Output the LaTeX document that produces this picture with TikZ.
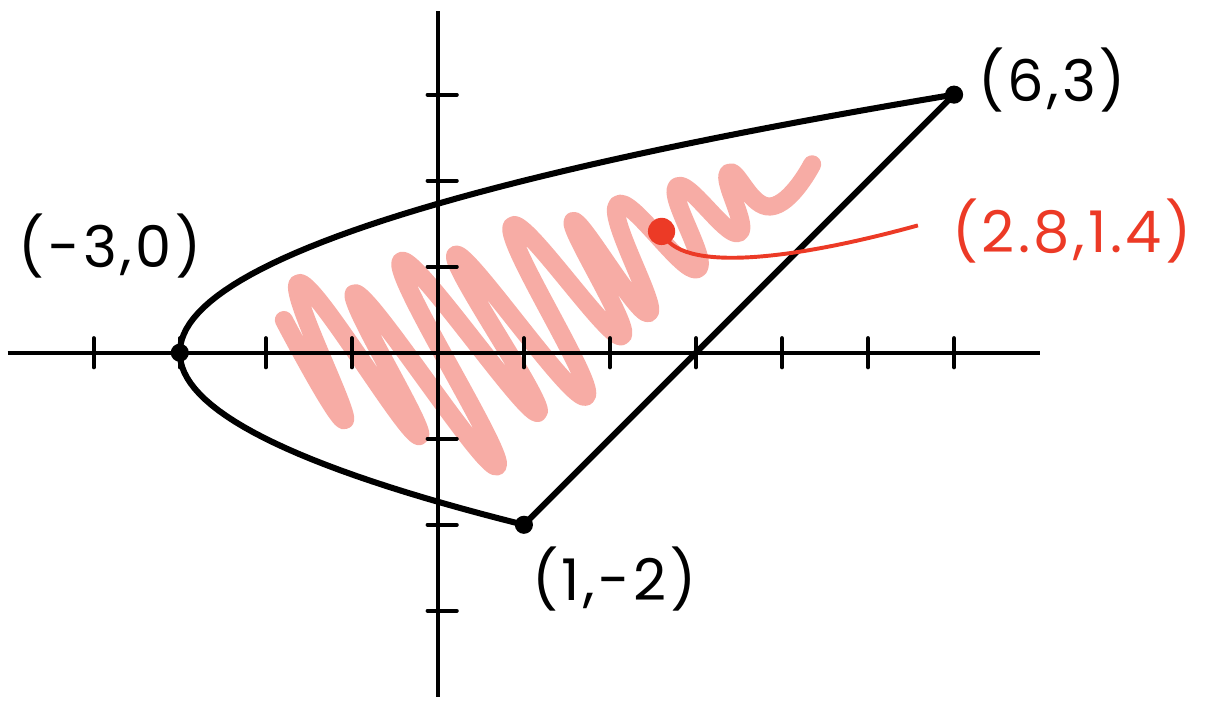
\documentclass[tikz,border=0pt]{standalone}
\usepackage{fontspec}
\setmainfont{Poppins}
\definecolor{scribblepink}{RGB}{247,172,165}
\definecolor{pointred}{RGB}{236,58,38}

\begin{document}
\begin{tikzpicture}[
        axisline/.style={line width=1.3pt},
        boundary/.style={line width=2pt},
        tickmark/.style={line width=1.3pt, line cap=round},
        vertex/.style={circle, fill=black, inner sep=0pt, minimum size=6pt},
        coordlabel/.style={font=\fontsize{19}{23}\selectfont\addfontfeature{LetterSpace=6}},
        scribble/.style={line width=6pt, scribblepink, line cap=round, line join=round},
        redpoint/.style={circle, fill=pointred, inner sep=0pt, minimum size=9pt},
        connector/.style={line width=1.3pt, pointred}
    ]
        \useasboundingbox (-5.09,-4.06) rectangle (9.01,4.10);

        % Shading of the region
        \draw[scribble] plot[smooth, tension=0.9] coordinates {
            (-1.79,0.38) (-1.08,-0.78) (-1.60,0.81) (-0.22,-0.97) (-0.95,0.69)
            (0.69,-1.32) (-0.43,1.06) (1.16,-0.70) (0.21,1.14) (1.72,-0.51)
            (0.86,1.47) (2.13,0.19) (1.57,1.53) (2.45,0.46) (2.09,1.72)
            (3.01,0.97) (2.78,1.93) (3.49,1.39) (3.38,2.09) (3.87,1.70) (4.35,2.19)};

        % Axes
        \draw[axisline] (-5,0) -- (7,0);
        \draw[axisline] (0,-4) -- (0,3.97);
        \foreach \x in {-4,-3,-2,-1,1,2,3,4,5,6}
            \draw[tickmark] (\x,-0.17) -- (\x,0.17);
        \foreach \y in {-3,-2,-1,1,2,3}
            \draw[tickmark] (-0.12,\y) -- (0.22,\y);

        % Corners
        \node[vertex] (left) at (-3,0) {};
        \node[vertex] (bottom) at (1,-2) {};
        \node[vertex] (top) at (6,3) {};

        % Boundary
        \draw[boundary] plot[domain=-2:3, samples=80, variable=\t] ({\t*\t-3},{\t});
        \draw[boundary] (bottom.center) -- (top.center);

        % Labels
        \node[coordlabel] (lbltop) at (7.14,3.17) {(6,3)};
        \node[coordlabel] (lblleft) at (-3.81,1.24) {(-3,0)};
        \node[coordlabel] (lblbottom) at (2.05,-2.63) {(1,-2)};

        % Centroid
        \node[redpoint] (pt) at (2.60,1.41) {};
        \node[coordlabel, text=pointred] (lblpt) at (7.37,1.42) {(2.8,1.4)};
        \coordinate (ptend) at (5.58,1.48);
        \draw[connector] (pt.center) .. controls (2.8,0.9) and (4.2,1.1) .. (ptend);
    \end{tikzpicture}
\end{document}
